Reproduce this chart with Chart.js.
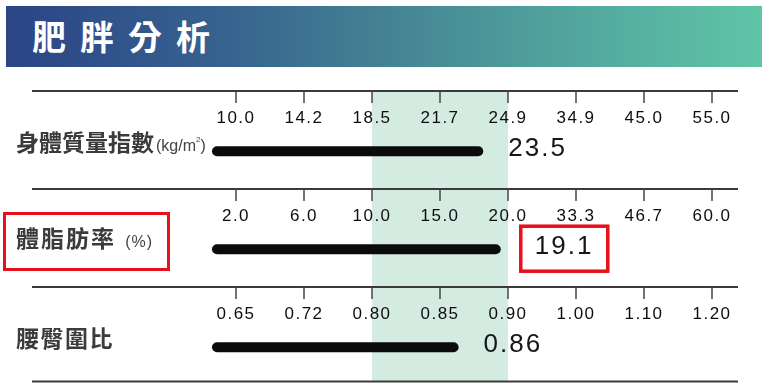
<!DOCTYPE html>
<html>
<head>
<meta charset="utf-8">
<title>肥胖分析</title>
<script src="https://cdn.jsdelivr.net/npm/chart.js@4.4.0/dist/chart.umd.min.js"></script>
<style>
  html, body { margin: 0; padding: 0; background: #fff; }
  body { position: relative; width: 766px; height: 392px; overflow: hidden;
         font-family: "Noto Sans CJK TC", "Noto Sans CJK SC", sans-serif; }
  #header { position: absolute; left: 6px; top: 6px; width: 756px; height: 61px;
            background: linear-gradient(90deg, #2b4486 0%, #37648f 30%, #448293 50%, #52a69e 75%, #5fc5a6 100%); }
  #title { position: absolute; left: 26px; top: 13px; color: #fff; font-weight: 700;
           font-size: 34px; line-height: 1; letter-spacing: 14px; white-space: nowrap; }
  .row { position: absolute; left: 0; width: 766px; height: 98px; }
  .lbl { position: absolute; left: 16px; color: #3b3b3b; font-weight: 700; font-size: 23px;
         line-height: 1; white-space: nowrap; }
  .unit { font-family: "Liberation Sans Narrow", "Liberation Sans", sans-serif; font-weight: 400;
          color: #444; font-size: 16px; letter-spacing: 0; margin-left: 2px; }
  .unit sup { font-size: 8px; vertical-align: 9px; }
  #hl { position: absolute; left: 3px; top: 212px; width: 167px; height: 59px;
        box-sizing: border-box; border: 3.5px solid #e8101a; }
</style>
</head>
<body>
<div id="header"><div id="title">肥胖分析</div></div>

<canvas id="c0" class="row" width="766" height="98" style="top:89px"></canvas>
<canvas id="c1" class="row" width="766" height="98" style="top:187px"></canvas>
<canvas id="c2" class="row" width="766" height="98" style="top:285px"></canvas>

<div class="lbl" style="top:130px">身體質量指數<span class="unit">(kg/m<sup>2</sup>)</span></div>
<div class="lbl" style="top:226px; letter-spacing:2px">體脂肪率 <span class="unit" style="font-family:'Liberation Sans',sans-serif; letter-spacing:1px">(%)</span></div>
<div class="lbl" style="top:326px; letter-spacing:1.5px">腰臀圍比</div>
<div id="hl"></div>

<script>
// ---- data ----
const bmiTicks = ['10.0', '14.2', '18.5', '21.7', '24.9', '34.9', '45.0', '55.0'];
const fatTicks = ['2.0', '6.0', '10.0', '15.0', '20.0', '33.3', '46.7', '60.0'];
const whrTicks = ['0.65', '0.72', '0.80', '0.85', '0.90', '1.00', '1.10', '1.20'];
const measured = [23.5, 19.1, 0.86];          // BMI, body fat %, waist-hip ratio
const normalRange = [2, 4];                   // tick slots bounding the normal zone
const rowTicks = [bmiTicks, fatTicks, whrTicks];

// ---- layout ----
const BAR_START = -0.28;    // bar origin, in tick-slot units
const X_MIN = -3, X_MAX = 7.382;

// piecewise-linear position of a value among uneven tick values
function toSlot(v, ticks) {
  const n = ticks.map(Number);
  for (let i = 0; i < n.length - 1; i++) {
    if (v <= n[i + 1]) return i + (v - n[i]) / (n[i + 1] - n[i]);
  }
  return n.length - 1;
}

const rowDecor = {
  id: 'rowDecor',
  beforeDraw(chart, args, opts) {
    const { ctx, chartArea, scales: { x } } = chart;
    ctx.save();
    // normal zone
    const x0 = x.getPixelForValue(normalRange[0]);
    const x1 = x.getPixelForValue(normalRange[1]);
    ctx.fillStyle = '#d4ebe1';
    ctx.fillRect(x0, opts.bandTop, x1 - x0, opts.bandBottom - opts.bandTop);
    // rule with tick marks
    ctx.strokeStyle = '#3a3a3a';
    ctx.lineWidth = 2;
    ctx.beginPath();
    ctx.moveTo(chartArea.left, 2);
    ctx.lineTo(chartArea.right, 2);
    if (opts.bottomRule) {
      ctx.moveTo(chartArea.left, opts.bottomRule);
      ctx.lineTo(chartArea.right, opts.bottomRule);
    }
    ctx.stroke();
    ctx.lineWidth = 1.5;
    ctx.strokeStyle = '#444';
    x.ticks.forEach(t => {
      const px = Math.round(x.getPixelForValue(t.value));
      ctx.beginPath();
      ctx.moveTo(px, 2);
      ctx.lineTo(px, 14);
      ctx.stroke();
    });
    ctx.restore();
    ctx.letterSpacing = '1.5px';
  },
  afterDraw(chart, args, opts) {
    const { ctx } = chart;
    ctx.letterSpacing = '0px';
    const pt = chart.getDatasetMeta(0).data[1];
    const value = chart.data.datasets[0].label;
    ctx.save();
    ctx.font = '26px "Liberation Sans", Arial, sans-serif';
    ctx.letterSpacing = '2px';
    ctx.fillStyle = '#161616';
    ctx.textBaseline = 'middle';
    ctx.textAlign = 'left';
    const cy = pt.y - 2;
    if (opts.boxed) {
      ctx.strokeStyle = '#e8101a';
      ctx.lineWidth = 3.5;
      ctx.strokeRect(pt.x + 25, pt.y - 23, 87, 45);
      ctx.fillText(value, pt.x + 39, cy);
    } else {
      ctx.fillText(value, pt.x + 30, cy);
    }
    ctx.restore();
  }
};

function makeRow(id, ticks, value, decor) {
  return new Chart(document.getElementById(id), {
    type: 'scatter',
    data: {
      datasets: [{
        label: String(value),
        data: [{ x: BAR_START, y: 0 }, { x: toSlot(value, ticks), y: 0 }],
        showLine: true,
        borderColor: '#0b0b0b',
        borderWidth: 10,
        borderCapStyle: 'round',
        pointRadius: 0,
        pointHoverRadius: 0
      }]
    },
    options: {
      responsive: false,
      animation: false,
      events: [],
      layout: { padding: { left: 32, right: 28, top: 19, bottom: 13 } },
      plugins: { legend: { display: false }, tooltip: { enabled: false }, rowDecor: decor },
      scales: {
        x: {
          type: 'linear', position: 'top', min: X_MIN, max: X_MAX,
          grid: { display: false, drawTicks: false },
          border: { display: false },
          afterBuildTicks: s => { s.ticks = ticks.map((_, i) => ({ value: i })); },
          ticks: {
            padding: 0, autoSkip: false, maxRotation: 0,
            color: '#0d0d0d',
            font: { family: '"Liberation Sans", Arial, sans-serif', size: 17 },
            callback: (v, i) => ticks[i]
          }
        },
        y: { type: 'linear', min: -1, max: 1, display: false }
      }
    },
    plugins: [rowDecor]
  });
}

makeRow('c0', rowTicks[0], measured[0], { bandTop: 3, bandBottom: 98 });
makeRow('c1', rowTicks[1], measured[1], { bandTop: 0, bandBottom: 98, boxed: true });
makeRow('c2', rowTicks[2], measured[2], { bandTop: 0, bandBottom: 96, bottomRule: 96.5 });
</script>
</body>
</html>
